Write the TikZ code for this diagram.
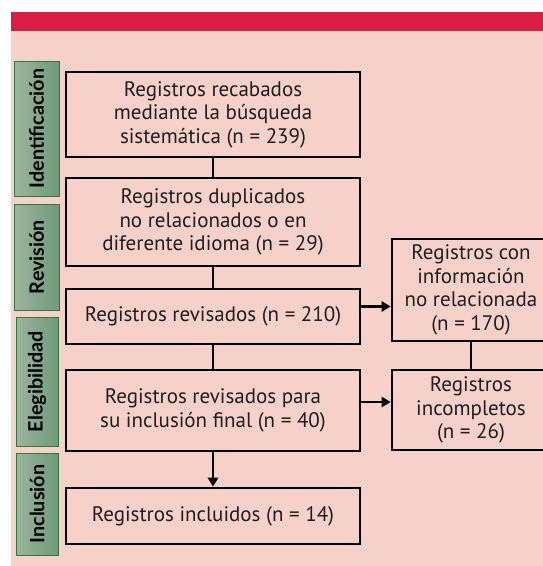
\documentclass[tikz,border=0pt]{standalone}
\usepackage{fontspec}
\setmainfont{PT Sans}
\newfontfamily\labelfont{Lato}
\usetikzlibrary{arrows.meta,shadings}
\definecolor{bandred}{HTML}{DC1C44}
\definecolor{bgpink}{HTML}{F6D1C9}
\definecolor{gleft}{HTML}{9DB59E}
\definecolor{gright}{HTML}{6F9A79}
\definecolor{gborder}{HTML}{2C7A3C}
\definecolor{txt}{HTML}{1E1E1E}
\tikzset{
  box/.style={draw=black, line width=2.6pt, fill=bgpink, align=center, text=txt,
    font=\fontsize{21}{23.5}\selectfont, inner sep=0pt, minimum width=294pt},
  rbox/.style={box, minimum width=158pt},
  phase/.style={draw=gborder, line width=1pt, left color=gleft, right color=gright,
    shading angle=90, minimum width=45pt, inner sep=0pt},
  phtext/.style={rotate=90, text=black, font=\labelfont\fontsize{19.8}{24}\selectfont\bfseries},
  lnk/.style={line width=2.3pt, black},
  arr/.style={lnk, -{Triangle[length=9pt,width=10pt]}}
}
\begin{document}
\begin{tikzpicture}[x=1pt,y=-1pt]
\useasboundingbox (0,0) rectangle (543,566);
\fill[white] (0,0) rectangle (543,566);
\fill[bgpink] (11,31) rectangle (543,566);
\fill[bandred] (11,12) rectangle (543,31);
% phase labels
\node[phase, minimum height=135pt] (ph1) at (36.5,128.5) {};
\node[phtext] (ph1t) at (ph1.center) {Identificación};
\node[phase, minimum height=106pt] (ph2) at (36.5,257) {};
\node[phtext] (ph2t) at (ph2.center) {Revisión};
\node[phase, minimum width=42pt, minimum height=129pt] (ph3) at (37,381.5) {};
\node[phtext] (ph3t) at (ph3.center) {Elegibilidad};
\node[phase, minimum width=42pt, minimum height=102pt] (ph4) at (37,504) {};
\node[phtext] (ph4t) at (ph4.center) {Inclusión};
% main boxes
\node[box, minimum height=85pt] (b1) at (213,114.5) {Registros recabados\\mediante la búsqueda\\sistemática (n = 239)};
\node[box, minimum height=88pt] (b2) at (213,222) {Registros duplicados\\no relacionados o en\\diferente idioma (n = 29)};
\node[box, minimum height=55pt] (b3) at (213,316.5) {Registros revisados (n = 210)};
\node[box, minimum height=81pt] (b4) at (213,410.5) {Registros revisados para\\su inclusión final (n = 40)};
\node[box, minimum height=56pt] (b5) at (213,516) {Registros incluidos (n = 14)};
% right boxes
\node[rbox, minimum height=102pt] (r1) at (471,290) {Registros con\\información\\no relacionada\\(n = 170)};
\node[rbox, minimum height=80pt] (r2) at (471,410) {Registros\\incompletos\\(n = 26)};
% connectors
\coordinate (a1) at ([yshift=10pt]b3.east);
\coordinate (a2) at ([yshift=8.5pt]b4.east);
\draw[lnk] (b1.south) -- (b2.north);
\draw[lnk] (b2.south) -- (b3.north);
\draw[lnk] (b3.south) -- (b4.north);
\draw[arr] (b4.south) -- (b5.north);
\draw[arr] (a1) -- (r1.west |- a1);
\draw[arr] (a2) -- (r2.west |- a2);
\draw[lnk] (r1.south) -- (r2.north);
\end{tikzpicture}
\end{document}
